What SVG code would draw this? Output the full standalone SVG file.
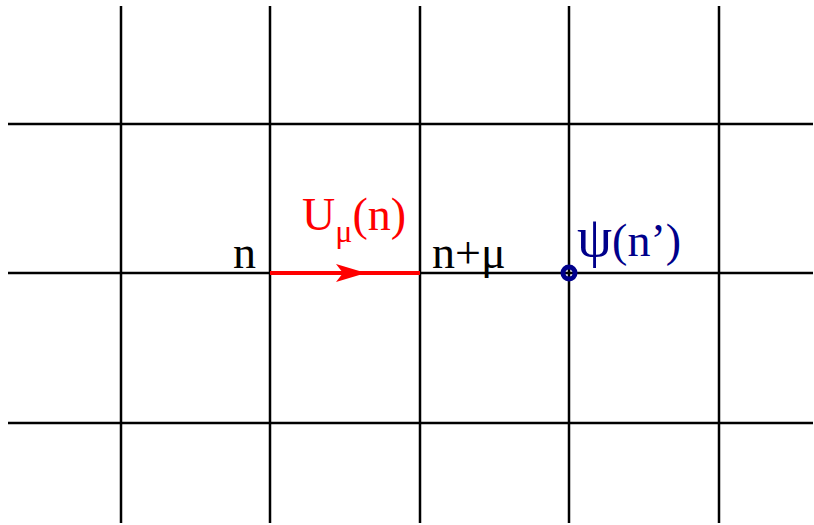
<svg xmlns="http://www.w3.org/2000/svg" width="814" height="525" viewBox="0 0 814 525">
<style>
.grid line{stroke:#000;stroke-width:2.5}
.t{font-family:"Liberation Serif","Times New Roman",serif;font-size:46px}
.red{fill:#f00}
.blue{fill:#00008b}
</style>
<rect width="814" height="525" fill="#fff"/>
<g id="connectors" class="grid">
<line x1="121" y1="6" x2="121" y2="523"/>
<line x1="270" y1="6" x2="270" y2="523"/>
<line x1="420" y1="6" x2="420" y2="523"/>
<line x1="569" y1="6" x2="569" y2="523"/>
<line x1="719" y1="6" x2="719" y2="523"/>
<line x1="8" y1="124" x2="813" y2="124"/>
<line x1="8" y1="273" x2="813" y2="273"/>
<line x1="8" y1="423" x2="813" y2="423"/>
</g>
<g id="link">
<line x1="270" y1="273" x2="420" y2="273" stroke="#f00" stroke-width="4"/>
<polygon points="336,264 366,273 336,282 343,273" fill="#f00"/>
<text class="t red" x="302" y="230">U<tspan font-size="32" dy="12">μ</tspan><tspan dy="-12">(n)</tspan></text>
</g>
<g id="node-n">
<text class="t" x="233" y="268">n</text>
</g>
<g id="node-nmu">
<text class="t" x="432" y="268">n+μ</text>
</g>
<g id="node-psi">
<circle cx="569" cy="273" r="6" fill="none" stroke="#00008b" stroke-width="5"/>
<text class="t blue" x="577" y="256" font-size="48"><tspan font-size="56">ψ</tspan>(n’)</text>
</g>
</svg>
